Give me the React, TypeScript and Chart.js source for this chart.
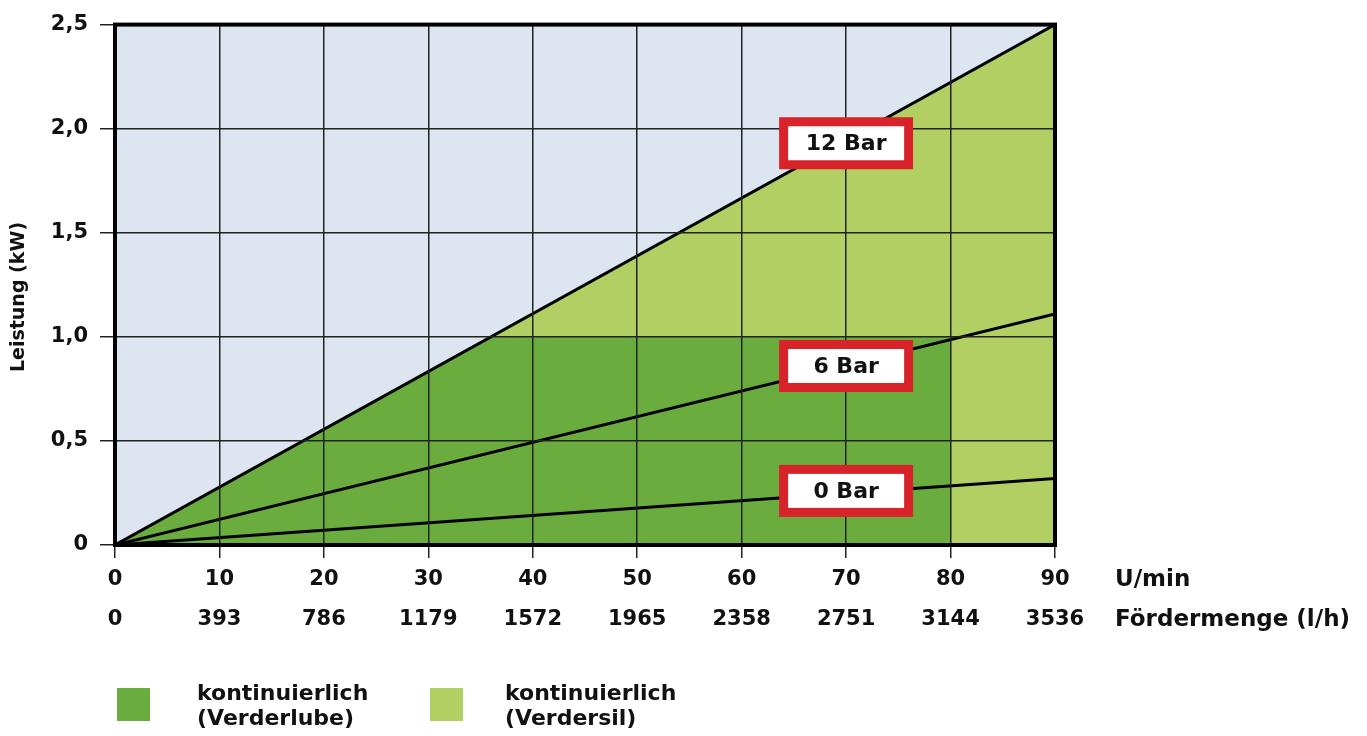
import React, { useEffect, useRef } from "react";
import { Chart, registerables } from "chart.js";

Chart.register(...registerables);

// ---- data ----
const speedTicks = [0, 10, 20, 30, 40, 50, 60, 70, 80, 90];
const flowTicks = ["0", "393", "786", "1179", "1572", "1965", "2358", "2751", "3144", "3536"];
const lineSpeed = [0, 90];
const power12Bar = [0, 2.5];
const power6Bar = [0, 1.11];
const power0Bar = [0, 0.32];
const lubeSpeed = [0, 36, 80, 80];
const lubePower = [0, 1.0, 1.0, 0];
const silSpeed = [0, 90, 90];
const silPower = [0, 2.5, 0];
const barLabels = ["12 Bar", "6 Bar", "0 Bar"];
const barLabelSpeed = [70, 70, 70];
const barLabelPower = [1.93, 0.86, 0.26];
const legendLabels = [["kontinuierlich", "(Verderlube)"], ["kontinuierlich", "(Verdersil)"]];
const xUnitLabels = ["U/min", "Fördermenge (l/h)"];
const yTitle = "Leistung (kW)";

const FONT = "'DejaVu Sans', Verdana, sans-serif";
const DARK_GREEN = "#6aac3e";
const LIGHT_GREEN = "#b2cf64";
const PLOT_BG = "#dde6f0";
const RED = "#d8232a";

const pts = (xs: number[], ys: number[]) => xs.map((x, i) => ({ x, y: ys[i] }));

const decorPlugin = {
  id: "decor",
  beforeDraw(chart: any) {
    const { ctx, chartArea: a } = chart;
    ctx.save();
    ctx.fillStyle = "#ffffff";
    ctx.fillRect(0, 0, chart.width, chart.height);
    ctx.fillStyle = PLOT_BG;
    ctx.fillRect(a.left, a.top, a.right - a.left, a.bottom - a.top);
    ctx.restore();
  },
  afterDraw(chart: any) {
    const { ctx, chartArea: a, scales } = chart;
    ctx.save();
    // frame
    ctx.strokeStyle = "#000";
    ctx.lineWidth = 4;
    ctx.strokeRect(a.left, a.top, a.right - a.left, a.bottom - a.top);

    // bar label boxes
    ctx.font = `bold 22px ${FONT}`;
    ctx.textAlign = "center";
    ctx.textBaseline = "middle";
    barLabels.forEach((t, i) => {
      const cx = scales.x.getPixelForValue(barLabelSpeed[i]);
      const cy = scales.y.getPixelForValue(barLabelPower[i]);
      const w = 134, h = 52, b = 9;
      ctx.fillStyle = RED;
      ctx.fillRect(cx - w / 2, cy - h / 2, w, h);
      ctx.fillStyle = "#fff";
      ctx.fillRect(cx - w / 2 + b, cy - h / 2 + b, w - 2 * b, h - 2 * b);
      ctx.fillStyle = "#111";
      ctx.fillText(t, cx, cy + 1);
    });

    // x unit labels
    ctx.font = `bold 23px ${FONT}`;
    ctx.textAlign = "left";
    ctx.fillStyle = "#111";
    ctx.fillText(xUnitLabels[0], 1115, 580);
    ctx.fillText(xUnitLabels[1], 1115, 620);

    // y title
    ctx.save();
    ctx.translate(19, 297);
    ctx.rotate(-Math.PI / 2);
    ctx.font = `bold 19px ${FONT}`;
    ctx.textAlign = "center";
    ctx.fillText(yTitle, 0, 0);
    ctx.restore();

    // legend
    const legendColors = [DARK_GREEN, LIGHT_GREEN];
    const boxX = [117, 430];
    const textX = [197, 505];
    ctx.font = `bold 22px ${FONT}`;
    ctx.textAlign = "left";
    legendLabels.forEach((lines, i) => {
      ctx.fillStyle = legendColors[i];
      ctx.fillRect(boxX[i], 688, 33, 33);
      ctx.fillStyle = "#111";
      lines.forEach((l, j) => ctx.fillText(l, textX[i], 694 + j * 25));
    });
    ctx.restore();
  },
};

export default function App() {
  const ref = useRef<HTMLCanvasElement | null>(null);
  useEffect(() => {
    if (!ref.current) return;
    const lineDs = (data: number[]) => ({
      type: "line" as const,
      data: pts(lineSpeed, data),
      borderColor: "#000",
      borderWidth: 3,
      pointRadius: 0,
      fill: false,
    });
    const chart = new Chart(ref.current, {
      type: "line",
      data: {
        datasets: [
          lineDs(power12Bar),
          lineDs(power6Bar),
          lineDs(power0Bar),
          {
            data: pts(lubeSpeed, lubePower),
            borderWidth: 0,
            borderColor: DARK_GREEN,
            backgroundColor: DARK_GREEN,
            pointRadius: 0,
            fill: "origin",
          },
          {
            data: pts(silSpeed, silPower),
            borderWidth: 0,
            borderColor: LIGHT_GREEN,
            backgroundColor: LIGHT_GREEN,
            pointRadius: 0,
            fill: "origin",
          },
        ] as any,
      },
      options: {
        animation: false,
        responsive: false,
        layout: { padding: { top: 22, right: 312, left: 0, bottom: 0 } },
        plugins: { legend: { display: false }, tooltip: { enabled: false } },
        scales: {
          x: {
            type: "linear",
            min: 0,
            max: 90,
            afterFit: (s: any) => {
              s.height = 191;
            },
            afterBuildTicks: (s: any) => {
              s.ticks = speedTicks.map((v) => ({ value: v }));
            },
            ticks: {
              padding: 2,
              color: "#111",
              maxRotation: 0,
              autoSkip: false,
              font: { family: FONT, size: 21, weight: "bold", lineHeight: "40px" } as any,
              callback: (v: any) => {
                const i = speedTicks.indexOf(Number(v));
                return [String(v), flowTicks[i] ?? ""];
              },
            },
            grid: { color: "#222", lineWidth: 1.5, tickLength: 13, z: 1 } as any,
            border: { display: false },
          },
          y: {
            type: "linear",
            min: 0,
            max: 2.5,
            afterFit: (s: any) => {
              s.width = 115;
            },
            ticks: {
              stepSize: 0.5,
              padding: 12,
              color: "#111",
              font: { family: FONT, size: 21, weight: "bold" } as any,
              callback: (v: any) => (Number(v) === 0 ? "0" : Number(v).toFixed(1).replace(".", ",")),
            },
            grid: { color: "#222", lineWidth: 1.5, tickLength: 15, z: 1 } as any,
            border: { display: false },
          },
        },
      },
      plugins: [decorPlugin],
    });
    return () => chart.destroy();
  }, []);
  return (
    <div style={{ position: "absolute", left: 0, top: 0, width: 1367, height: 736 }}>
      <canvas ref={ref} width={1367} height={736} />
    </div>
  );
}
